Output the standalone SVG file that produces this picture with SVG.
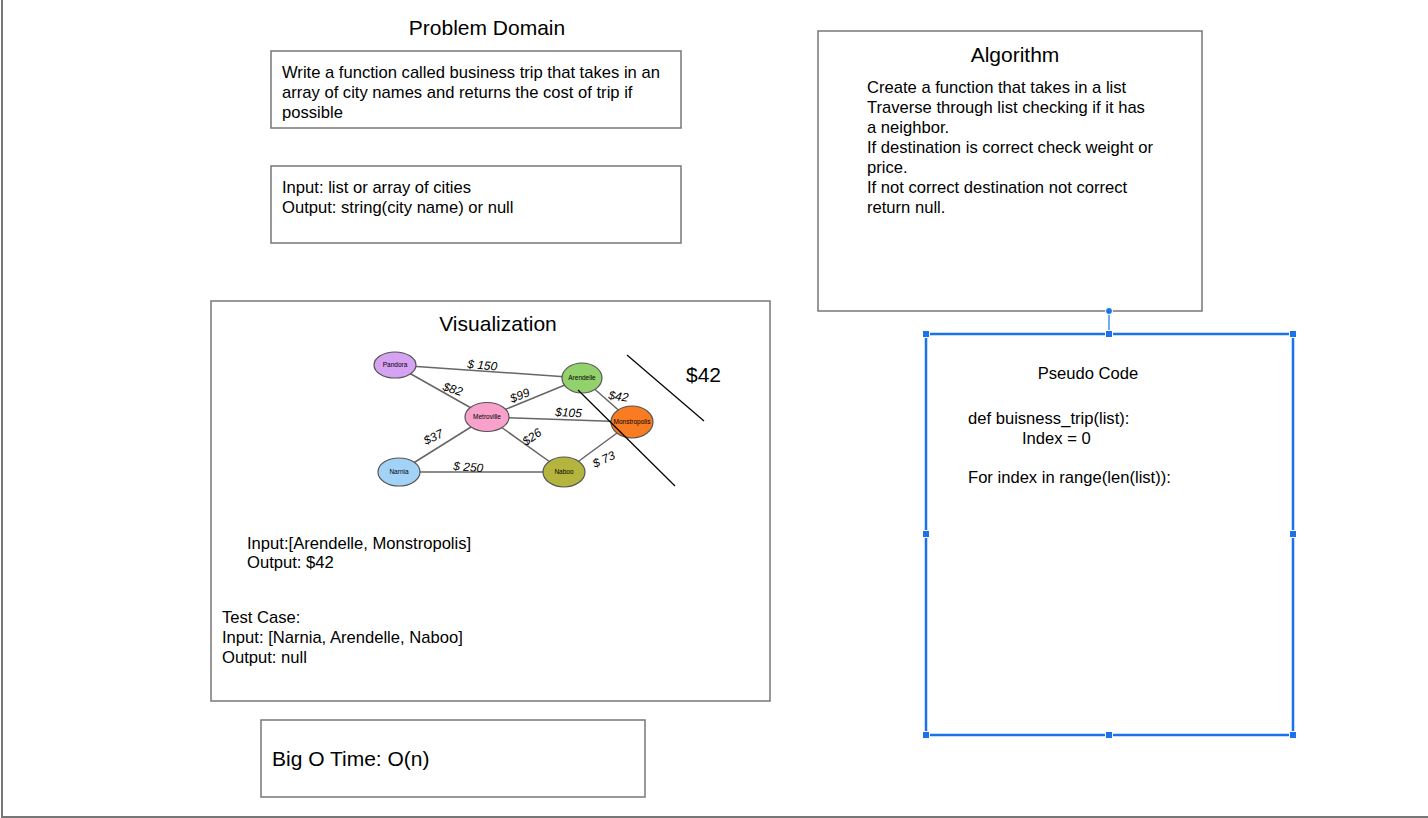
<svg xmlns="http://www.w3.org/2000/svg" width="1428" height="818" viewBox="0 0 1428 818">
<style>
text{font-family:"Liberation Sans",Arial,sans-serif;fill:#000}
.box{fill:#fff;stroke:#777;stroke-width:1.5}
.t15{font-size:16.6px}
.t20{font-size:21px}
.edge{stroke:#666;stroke-width:1.5;fill:none}
.node{stroke:#555;stroke-width:1.2}
.nl{font-size:6.5px;text-anchor:middle}
.el{font-size:12px;font-style:italic}
.handle{fill:#1a73e8;stroke:#fff;stroke-width:1}
</style>
<rect width="1428" height="818" fill="#fff"/>
<g id="frame"><path d="M2 0V817H1428" fill="none" stroke="#777" stroke-width="2"/></g>

<g id="problem-domain">
<text x="487" y="35" class="t20" text-anchor="middle">Problem Domain</text>
<rect class="box" x="271" y="51" width="410" height="77"/>
<text class="t15" x="282" y="78">Write a function called business trip that takes in an</text>
<text class="t15" x="282" y="98">array of city names and returns the cost of trip if</text>
<text class="t15" x="282" y="118">possible</text>
</g>

<g id="io">
<rect class="box" x="271" y="166" width="410" height="77"/>
<text class="t15" x="282" y="193">Input: list or array of cities</text>
<text class="t15" x="282" y="213">Output: string(city name) or null</text>
</g>

<g id="algorithm">
<rect class="box" x="818" y="31" width="384" height="280"/>
<text x="1015" y="62" class="t20" text-anchor="middle">Algorithm</text>
<text class="t15" x="867" y="93">Create a function that takes in a list</text>
<text class="t15" x="867" y="113">Traverse through list checking if it has</text>
<text class="t15" x="867" y="133">a neighbor.</text>
<text class="t15" x="867" y="153">If destination is correct check weight or</text>
<text class="t15" x="867" y="173">price.</text>
<text class="t15" x="867" y="193">If not correct destination not correct</text>
<text class="t15" x="867" y="213">return null.</text>
</g>

<g id="visualization">
<rect class="box" x="211" y="301" width="559" height="400"/>
<text x="498" y="331" class="t20" text-anchor="middle">Visualization</text>
<g id="graph-edges">
<line class="edge" x1="395" y1="365" x2="582" y2="378"/>
<line class="edge" x1="395" y1="365" x2="487" y2="417"/>
<line class="edge" x1="487" y1="417" x2="582" y2="378"/>
<line class="edge" x1="487" y1="417" x2="632" y2="422"/>
<line class="edge" x1="487" y1="417" x2="399" y2="472"/>
<line class="edge" x1="487" y1="417" x2="564" y2="472"/>
<line class="edge" x1="399" y1="472" x2="564" y2="472"/>
<line class="edge" x1="582" y1="378" x2="632" y2="422"/>
<line class="edge" x1="564" y1="472" x2="632" y2="422"/>
</g>
<g id="graph-nodes">
<ellipse class="node" cx="395" cy="365" rx="21" ry="13" fill="#d6a2f2"/>
<text class="nl" x="395" y="367">Pandora</text>
<ellipse class="node" cx="582" cy="378" rx="20" ry="15" fill="#93d16c"/>
<text class="nl" x="582" y="380">Arendelle</text>
<ellipse class="node" cx="487" cy="417" rx="22" ry="14.5" fill="#f7a1cb"/>
<text class="nl" x="487" y="419">Metroville</text>
<ellipse class="node" cx="632" cy="422" rx="21" ry="16" fill="#f97b22"/>
<text class="nl" x="632" y="424">Monstropolis</text>
<ellipse class="node" cx="399" cy="472" rx="21" ry="14" fill="#a2d2f6"/>
<text class="nl" x="399" y="474">Narnia</text>
<ellipse class="node" cx="564" cy="472" rx="21" ry="15" fill="#b5b43f"/>
<text class="nl" x="564" y="474">Naboo</text>
</g>
<g id="edge-labels">
<text class="el" x="467" y="368" transform="rotate(5 467 368)">$ 150</text>
<text class="el" x="442" y="390" transform="rotate(18 442 390)">$82</text>
<text class="el" x="512" y="403" transform="rotate(-22 512 403)">$99</text>
<text class="el" x="555" y="416" transform="rotate(3 555 416)">$105</text>
<text class="el" x="608" y="399" transform="rotate(8 608 399)">$42</text>
<text class="el" x="426" y="445" transform="rotate(-25 426 445)">$37</text>
<text class="el" x="526" y="446" transform="rotate(-35 526 446)">$26</text>
<text class="el" x="453" y="470" transform="rotate(4 453 470)">$ 250</text>
<text class="el" x="595" y="468" transform="rotate(-25 595 468)">$ 73</text>
</g>
<line x1="627" y1="355" x2="704" y2="421" stroke="#000" stroke-width="1.2"/>
<line x1="578" y1="390" x2="675" y2="486" stroke="#000" stroke-width="1.2"/>
<text x="686" y="382" class="t20">$42</text>
<text class="t15" x="247" y="549">Input:[Arendelle, Monstropolis]</text>
<text class="t15" x="247" y="568">Output: $42</text>
<text class="t15" x="222" y="623">Test Case:</text>
<text class="t15" x="222" y="643">Input: [Narnia, Arendelle, Naboo]</text>
<text class="t15" x="222" y="663">Output: null</text>
</g>

<g id="big-o">
<rect class="box" x="261" y="720" width="384" height="77"/>
<text x="272" y="766" class="t20">Big O Time: O(n)</text>
</g>

<g id="pseudo-code">
<rect x="926" y="334" width="367" height="401" fill="#fff" stroke="#c6dafc" stroke-width="4"/>
<rect x="926" y="334" width="367" height="401" fill="none" stroke="#1a73e8" stroke-width="2"/>
<text class="t15" x="1088" y="379" text-anchor="middle">Pseudo Code</text>
<text class="t15" x="968" y="424">def buisness_trip(list):</text>
<text class="t15" x="1022" y="444">Index = 0</text>
<text class="t15" x="968" y="483">For index in range(len(list)):</text>
<g id="selection-handles">
<line x1="1109" y1="313" x2="1109" y2="331" stroke="#1a73e8" stroke-width="1.2"/>
<circle cx="1109" cy="311" r="3.5" fill="#1a73e8" stroke="#fff" stroke-width="1"/>
<rect class="handle" x="922.5" y="330.5" width="7" height="7"/>
<rect class="handle" x="1105.5" y="330.5" width="7" height="7"/>
<rect class="handle" x="1289.5" y="330.5" width="7" height="7"/>
<rect class="handle" x="922.5" y="530.5" width="7" height="7"/>
<rect class="handle" x="1289.5" y="530.5" width="7" height="7"/>
<rect class="handle" x="922.5" y="731.5" width="7" height="7"/>
<rect class="handle" x="1105.5" y="731.5" width="7" height="7"/>
<rect class="handle" x="1289.5" y="731.5" width="7" height="7"/>
</g>
</g>
</svg>
